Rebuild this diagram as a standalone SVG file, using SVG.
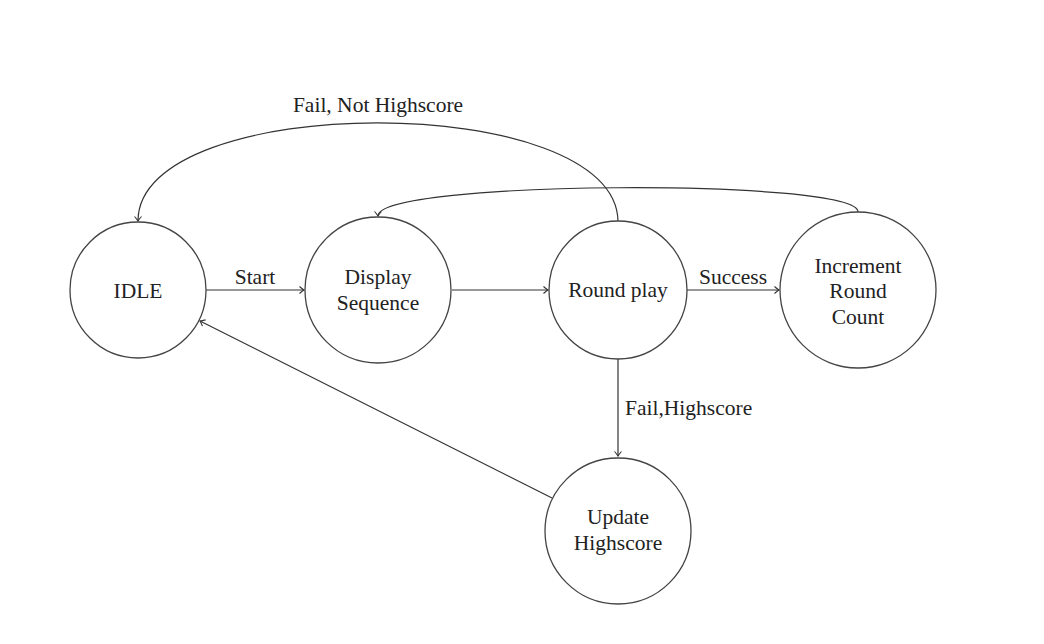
<svg xmlns="http://www.w3.org/2000/svg" width="1044" height="644" viewBox="0 0 1044 644">
<style>
.node circle{fill:#fff;stroke:#444;stroke-width:1.3}
text{font-family:"Liberation Serif","DejaVu Serif",serif;font-size:21.5px;fill:#222;text-anchor:middle}
.edge{fill:none;stroke:#333;stroke-width:1.2;marker-end:url(#arr)}
</style>
<defs>
<marker id="arr" viewBox="-6 -5 8 10" markerWidth="8" markerHeight="10" refX="0" refY="0" orient="auto" markerUnits="userSpaceOnUse">
<path d="M-4.5,-3.5 Q-1.5,-0.8 0,0 Q-1.5,0.8 -4.5,3.5" fill="none" stroke="#333" stroke-width="1.1"/>
</marker>
</defs>
<rect width="1044" height="644" fill="#fff"/>
<g id="connectors">
<line class="edge" x1="206" y1="290" x2="304" y2="290"/>
<line class="edge" x1="452" y1="290" x2="548" y2="290"/>
<line class="edge" x1="687" y1="290" x2="779" y2="290"/>
<line class="edge" x1="618" y1="359" x2="618" y2="456"/>
<line class="edge" x1="552" y1="498" x2="200" y2="321"/>
<path class="edge" d="M618,222 C618,90 138,90 138,221"/>
<path class="edge" d="M858,212 C858,178 378,180 378,216"/>
<text x="255" y="284">Start</text>
<text x="733" y="284">Success</text>
<text x="625" y="415" style="text-anchor:start">Fail,Highscore</text>
<text x="378" y="112">Fail, Not Highscore</text>
</g>
<g id="idle" class="node"><circle cx="138" cy="290" r="68"/><text x="138" y="298">IDLE</text></g>
<g id="display" class="node"><circle cx="378" cy="290" r="73"/><text x="378" y="284">Display</text><text x="378" y="310">Sequence</text></g>
<g id="roundplay" class="node"><circle cx="618" cy="290" r="69"/><text x="618" y="297">Round play</text></g>
<g id="increment" class="node"><circle cx="858" cy="290" r="78"/><text x="858" y="273">Increment</text><text x="858" y="298">Round</text><text x="858" y="324">Count</text></g>
<g id="update" class="node"><circle cx="618" cy="531" r="73"/><text x="618" y="524">Update</text><text x="618" y="550">Highscore</text></g>
</svg>
